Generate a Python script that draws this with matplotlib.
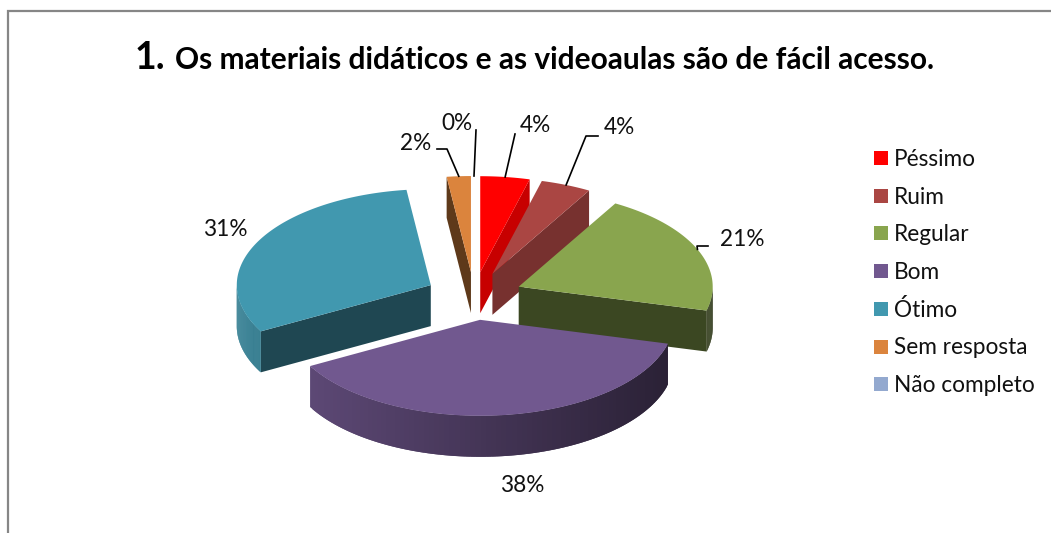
import numpy as np
import matplotlib
matplotlib.use('Agg')
import matplotlib.pyplot as plt
from matplotlib.patches import Polygon, Rectangle

plt.rcParams['font.family'] = ['Lato', 'DejaVu Sans']

categories = ['Péssimo', 'Ruim', 'Regular', 'Bom', 'Ótimo', 'Sem resposta', 'Não completo']
values = [4.1, 4.2, 20.7, 38.0, 31.0, 2.0, 0.0]
colors = ['#ff0000', '#aa4643', '#89a54e', '#71588f', '#4198af', '#db843d', '#93a9cf']
title_number = '1.'
title_text = 'Os materiais didáticos e as videoaulas são de fácil acesso.'

# pie geometry in pixels of the picture
cx, cy = 474, 296
rx, ry = 194, 96
depth = 41
explode = 0.25
# back to front
draw_order = [5, 0, 1, 2, 4, 3]
# how dark the flat cut face of each slice is
face_shade = [0.78, 0.70, 0.43, 0.43, 0.47, 0.43, 0.43]

# label centre, and the elbow of the leader line (None when there is no line)
label_pos = [(535, 126), (619, 128), (742, 240), (522, 485), (225, 230), (416, 143), (457, 123)]
leader_pts = [[(515, 134)],
              [(586, 136), (598, 136)],
              [(697, 246), (708, 246)],
              None,
              None,
              [(447, 149), (437, 149)],
              [(476, 130)]]
label_size = 16.3


def point(th, ax0, ay0, r=1.0):
    # th is clockwise from 12 o'clock
    return ax0 + r * rx * np.sin(th), ay0 - r * ry * np.cos(th)


def shade(col, f):
    return tuple(c * f for c in matplotlib.colors.to_rgb(col))


fig = plt.figure(figsize=(10.51, 5.33), dpi=100)
ax = fig.add_axes([0, 0, 1, 1])
ax.set_xlim(0, 1051)
ax.set_ylim(533, 0)
ax.axis('off')

# frame, the chart is cut at right and bottom
ax.plot([8, 8, 1051], [533, 11, 11], color='#868686', lw=1.6, solid_joinstyle='miter')

edges = np.concatenate([[0], np.cumsum(values)]) / sum(values) * 2 * np.pi
mids = (edges[:-1] + edges[1:]) / 2

for i in draw_order:
    t0, t1 = edges[i], edges[i + 1]
    if t1 - t0 <= 0:
        continue
    ax0, ay0 = point(mids[i], cx, cy, explode)
    col = colors[i]
    z = 2 + draw_order.index(i)

    # flat cut faces
    for th, seen in ((t0, np.sin(t0) < 0), (t1, np.sin(t1) > 0)):
        if seen:
            px, py = point(th, ax0, ay0)
            face = [(ax0, ay0), (px, py), (px, py + depth), (ax0, ay0 + depth)]
            ax.add_patch(Polygon(face, closed=True, fc=shade(col, face_shade[i]), ec='none', zorder=z))

    # outer wall, only the part that faces us, in overlapping strips for the gradient
    lo, hi = max(t0, np.pi / 2), min(t1, 3 * np.pi / 2)
    if hi > lo:
        ths = np.linspace(hi, lo, 90)
        for a, b in zip(ths[:-2], ths[2:]):
            f = 0.61 - 0.24 * np.sin((a + b) / 2)
            xa, ya = point(a, ax0, ay0)
            xb, yb = point(b, ax0, ay0)
            strip = [(xa, ya), (xb, yb), (xb, yb + depth), (xa, ya + depth)]
            ax.add_patch(Polygon(strip, closed=True, fc=shade(col, f), ec='none', zorder=z))

    # top
    ths = np.linspace(t0, t1, 120)
    xs, ys = point(ths, ax0, ay0)
    top = [(ax0, ay0)] + list(zip(xs, ys))
    ax.add_patch(Polygon(top, closed=True, fc=col, ec='none', zorder=z))

# leader lines and labels
for i, v in enumerate(values):
    if leader_pts[i] is not None:
        ax0, ay0 = point(mids[i], cx, cy, explode)
        px, py = point(mids[i], ax0, ay0)
        pts = [(px, py)] + leader_pts[i]
        ax.plot([p[0] for p in pts], [p[1] for p in pts], color='black', lw=1.2, zorder=20)
    ax.text(label_pos[i][0], label_pos[i][1], '%d%%' % round(v), ha='center', va='center',
            fontsize=label_size, color='#111111', zorder=21)

# legend
for i, name in enumerate(categories):
    y = 158 + i * 37.7
    ax.add_patch(Rectangle((874, y - 7), 14, 14, fc=colors[i], ec='none'))
    ax.text(894, y + 1.5, name, ha='left', va='center', fontsize=label_size, color='#111111')

# title
ax.text(165, 69, title_number, ha='right', va='baseline', fontsize=27, fontweight='bold', color='black')
ax.text(175, 69, title_text, ha='left', va='baseline', fontsize=21.55, fontweight='bold', color='black')

fig.savefig('out.png', dpi=100)
